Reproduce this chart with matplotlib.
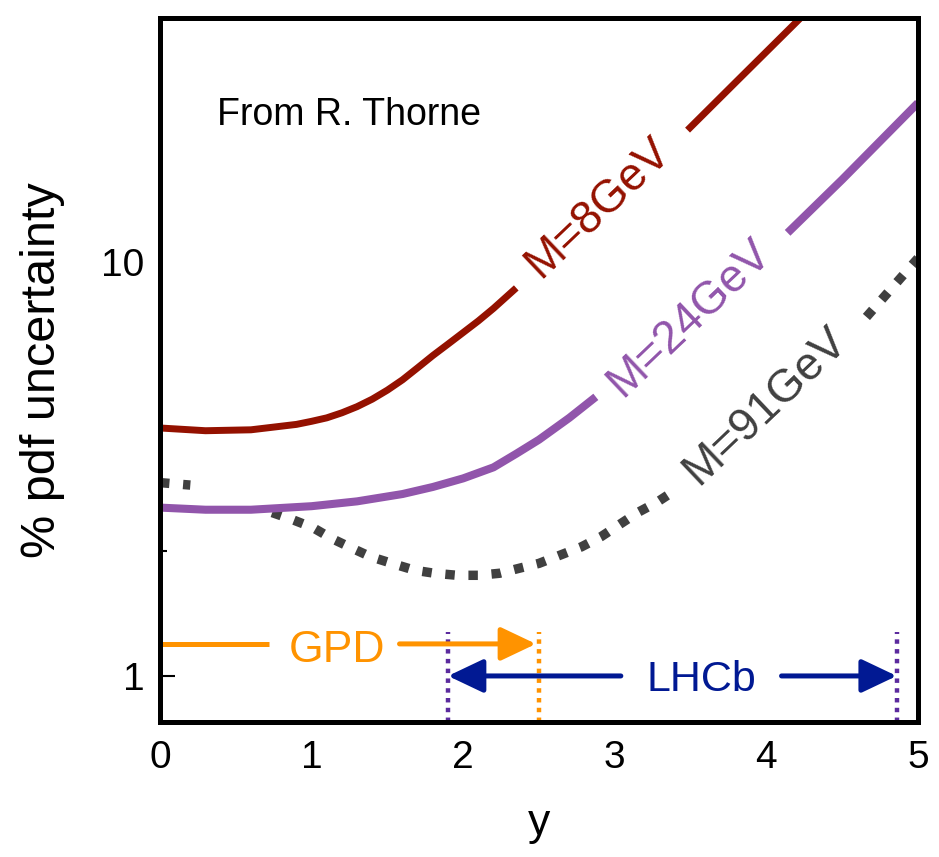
import numpy as np
import matplotlib
matplotlib.use("Agg")
import matplotlib.pyplot as plt
from matplotlib.ticker import NullFormatter

plt.rcParams['font.family'] = ['Liberation Sans', 'DejaVu Sans']

nan = np.nan

# curves (nan = gap left for the label)
red_x = [0, 0.3, 0.6, 0.9, 1.0, 1.1, 1.2, 1.3, 1.4, 1.5, 1.6, 1.7, 1.8, 1.9, 2.0, 2.1, 2.2, 2.35,
         nan, 3.48, 3.8, 4.2, 4.5]
red_y = [3.97, 3.91, 3.93, 4.05, 4.12, 4.2, 4.32, 4.47, 4.66, 4.9, 5.19, 5.55, 5.94, 6.33, 6.75,
         7.2, 7.72, 8.65, nan, 20.8, 27.2, 38.0, 48.9]

purple_x = [0, 0.3, 0.6, 1.0, 1.3, 1.6, 1.8, 2.0, 2.2, 2.35, 2.5, 2.7, 2.875, nan, 4.14, 4.5, 5.0]
purple_y = [2.55, 2.52, 2.52, 2.57, 2.64, 2.75, 2.86, 3.0, 3.19, 3.44, 3.72, 4.2, 4.72, nan,
            11.75, 15.8, 24.2]

gray_x = [0, 0.2, nan, 0.74, 0.88, 1.01, 1.13, 1.26, 1.39, 1.53, 1.68, 1.81, 1.96, 2.1, 2.24,
          2.37, 2.5, 2.78, 2.91, 3.03, 3.15, 3.28, 3.4, nan, 4.66, 5.0]
gray_y = [2.93, 2.89, nan, 2.48, 2.38, 2.28, 2.15, 2.04, 1.94, 1.87, 1.8, 1.77, 1.75, 1.75, 1.77,
          1.82, 1.87, 2.05, 2.17, 2.32, 2.48, 2.63, 2.81, nan, 7.36, 10.2]

labels = ['M=8GeV', 'M=24GeV', 'M=91GeV']
label_x = [2.89, 3.49, 3.99]
label_y = [13.5, 7.32, 4.49]

gpd_range = [0, 2.48]
lhcb_range = [1.9, 4.86]
gpd_level = 1.195
lhcb_level = 1.0

red = '#941100'
purple = '#9155AB'
gray = '#404040'
orange = '#FF9300'
blue = '#011993'
violet = '#5B2A9E'

fig = plt.figure(figsize=(9.39, 8.57), dpi=100)
ax = fig.add_axes([0.1704, 0.1575, 0.8072, 0.8215])

ax.plot(gray_x, gray_y, color=gray, lw=6.8, dashes=(1.0, 1.45))
ax.plot(purple_x, purple_y, color=purple, lw=5.8, solid_capstyle='butt', solid_joinstyle='round')
ax.plot(red_x, red_y, color=red, lw=5, solid_capstyle='butt', solid_joinstyle='round')

ax.set_yscale('log')
ax.set_xlim(0, 5)
ax.set_ylim(0.774, 38.8)

for txt, lx, ly, c in zip(labels, label_x, label_y, [red, purple, gray]):
    ax.text(lx, ly, txt, color=c, fontsize=33, rotation=43.5,
            rotation_mode='anchor', ha='center', va='center')

ax.text(0.375, 21.4, 'From R. Thorne', fontsize=27, ha='left', va='baseline')

head = '-|>,head_length=0.4,head_width=0.19'

# GPD arrow
ax.plot([gpd_range[0], 0.72], [gpd_level, gpd_level], color=orange, lw=3.6, solid_capstyle='butt')
ax.annotate('', xy=(gpd_range[1], gpd_level), xytext=(1.58, gpd_level),
            arrowprops=dict(arrowstyle=head, color=orange, lw=3.6, mutation_scale=54,
                            shrinkA=0, shrinkB=0))
ax.text(1.165, 1.081, 'GPD', color=orange, fontsize=32, ha='center', va='baseline')

# LHCb arrows
ax.annotate('', xy=(lhcb_range[0], lhcb_level), xytext=(3.04, lhcb_level),
            arrowprops=dict(arrowstyle=head, color=blue, lw=3.6, mutation_scale=54,
                            shrinkA=0, shrinkB=0))
ax.annotate('', xy=(lhcb_range[1], lhcb_level), xytext=(4.1, lhcb_level),
            arrowprops=dict(arrowstyle=head, color=blue, lw=3.6, mutation_scale=54,
                            shrinkA=0, shrinkB=0))
ax.text(3.57, 0.92, 'LHCb', color=blue, fontsize=31, ha='center', va='baseline')

# dotted acceptance edges
ax.vlines(lhcb_range, 0.774, 1.28, color=violet, lw=3.2, linestyles=(0, (1, 1.2)))
ax.vlines([2.5], 0.774, 1.28, color=orange, lw=3.2, linestyles=(0, (1, 1.2)))

ax.set_yticks([1, 10])
ax.set_yticklabels(['1', '10'])
ax.set_yticks([2], minor=True)
ax.yaxis.set_minor_formatter(NullFormatter())
ax.tick_params(axis='y', which='major', direction='in', length=11, width=1.5, labelsize=28, pad=11)
ax.tick_params(axis='y', which='minor', direction='in', length=5, width=1.5)
ax.yaxis.get_major_ticks()[1].tick1line.set_visible(False)
ax.set_xticks([0, 1, 2, 3, 4, 5])
ax.tick_params(axis='x', length=0, labelsize=28, pad=13)

for s in ax.spines.values():
    s.set_linewidth(3.6)

ax.set_ylabel('% pdf uncertainty', fontsize=35)
ax.yaxis.set_label_coords(-0.125, 0.5)
ax.set_xlabel('y', fontsize=32)
ax.xaxis.set_label_coords(0.5, -0.115)

fig.savefig('out.png', dpi=100)
